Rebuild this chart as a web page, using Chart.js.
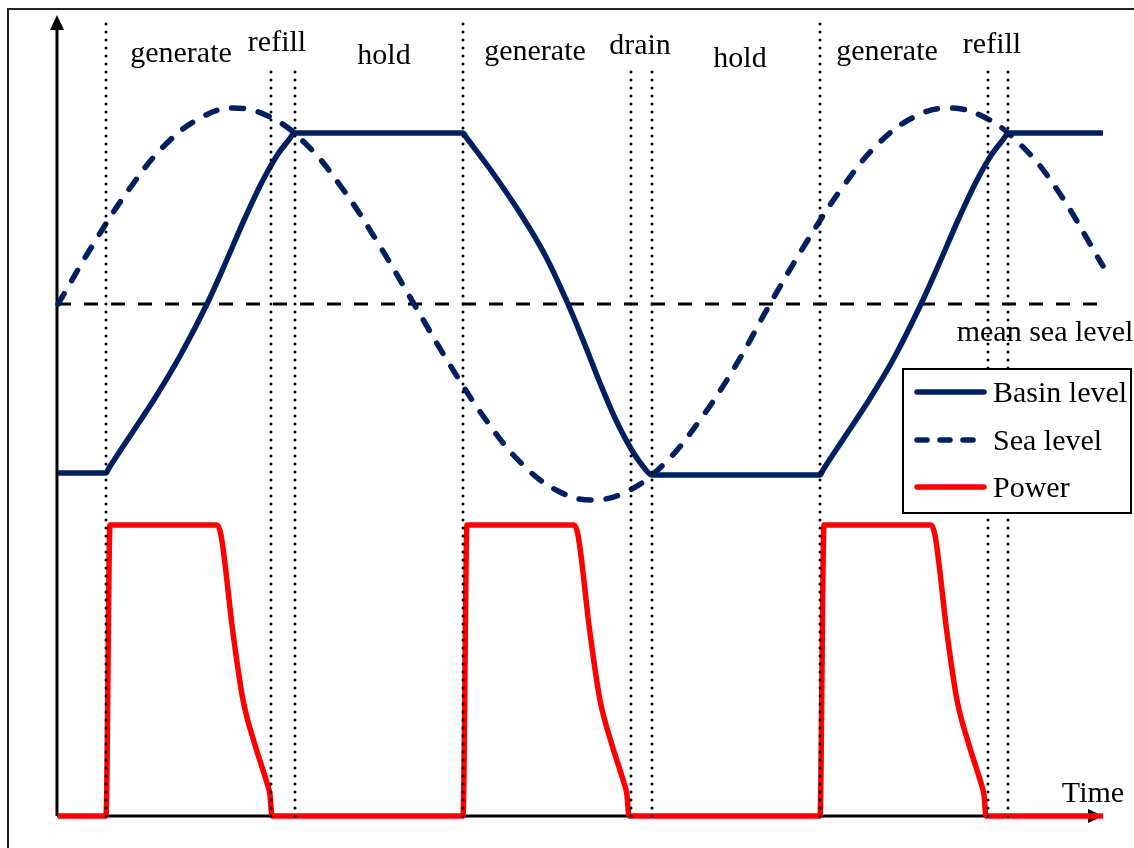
<!DOCTYPE html>
<html>
<head>
<meta charset="utf-8">
<title>Tidal power cycle</title>
<script src="https://cdn.jsdelivr.net/npm/chart.js@4.4.1/dist/chart.umd.min.js"></script>
<style>
    html, body { margin: 0; padding: 0; background: #fff; }
    canvas { display: block; }
</style>
</head>
<body>
<canvas id="tideChart" width="1134" height="848"></canvas>
<script>
/* ------------------------------------------------------------
   Ciclo de geração maré: nível da bacia, nível do mar e potência
   (tempo e altura em unidades arbitrárias)
   ------------------------------------------------------------ */

// Nível do mar (sinusoide tracejada)
const seaTime  = [1, 37, 73, 109, 145, 176, 213, 249, 285, 321, 357, 393, 429, 465, 501, 535,
                  571, 607, 643, 679, 713, 749, 785, 821, 857, 891, 927, 963, 999, 1046];
const seaLevel = [512, 573, 628, 672, 699, 708, 699, 672, 628, 573, 512, 451, 396, 352, 325, 316,
                  325, 352, 396, 451, 512, 573, 628, 672, 699, 708, 699, 672, 628, 550];

// Nível da bacia (linha cheia)
const basinTime  = [1, 49, 52, 73, 98, 123, 150, 168, 188, 205, 221, 231, 238,
                    406, 409, 433, 463, 488, 511, 528, 543, 558, 573, 585, 595,
                    763, 766, 787, 812, 837, 864, 882, 902, 919, 935, 945, 952, 1046];
const basinLevel = [343, 343, 348, 380, 418, 460, 512, 552, 598, 634, 662, 675, 683,
                    683, 679, 647, 603, 561, 512, 471, 433, 398, 369, 351, 341,
                    341, 346, 378, 416, 458, 512, 552, 598, 634, 662, 675, 683, 683];

// Potência gerada (linha vermelha)
const powerTime  = [1, 49, 53, 160, 164, 176, 186, 198, 210, 213, 215,
                    406, 410, 517, 521, 533, 543, 555, 567, 570, 572,
                    763, 767, 874, 878, 890, 900, 912, 924, 927, 929, 1046];
const powerLevel = [0, 0, 291, 291, 281, 183, 116, 71, 33, 21, 0,
                    0, 291, 291, 281, 183, 116, 71, 33, 21, 0,
                    0, 291, 291, 281, 183, 116, 71, 33, 21, 0, 0];

// Nível médio do mar
const meanSeaLevel = 512;

// Limites das fases (linhas pontilhadas)
const phaseTimes = [49, 214, 238, 406, 574, 595, 763, 931, 951];
const phaseTops  = [798, 749, 749, 798, 749, 749, 798, 749, 749];

// Rótulos das fases
const phaseLabels = ['generate', 'refill', 'hold', 'generate', 'drain', 'hold', 'generate', 'refill'];
const labelTimes  = [124, 220, 327, 478, 583, 683, 830, 935];
const labelHeights = [754, 765, 752, 756, 762, 749, 756, 763];

const seriesNames = ['Basin level', 'Sea level', 'Power'];

const NAVY = '#002060';
const RED = '#ff0000';
const FONT = '30px "Liberation Serif", "Times New Roman", serif';

const zip = (xs, ys) => xs.map((x, i) => ({ x: x, y: ys[i] }));

/**
 * Moldura, eixos com setas, rótulos e legenda
 */
const decorPlugin = {
    id: 'decor',
    beforeDatasetsDraw(chart) {
        const ctx = chart.ctx;
        const area = chart.chartArea;
        ctx.save();

        // moldura
        ctx.strokeStyle = '#222';
        ctx.lineWidth = 2;
        ctx.strokeRect(8, 9, 1140, 860);

        // eixos
        ctx.strokeStyle = '#000';
        ctx.fillStyle = '#000';
        ctx.lineWidth = 3;
        ctx.beginPath();
        ctx.moveTo(area.left, area.bottom);
        ctx.lineTo(area.left, area.top + 12);
        ctx.moveTo(area.left, area.bottom);
        ctx.lineTo(area.right - 12, area.bottom);
        ctx.stroke();

        ctx.beginPath();
        ctx.moveTo(area.left, area.top);
        ctx.lineTo(area.left - 7, area.top + 15);
        ctx.lineTo(area.left + 7, area.top + 15);
        ctx.closePath();
        ctx.fill();

        ctx.beginPath();
        ctx.moveTo(area.right, area.bottom);
        ctx.lineTo(area.right - 15, area.bottom - 7);
        ctx.lineTo(area.right - 15, area.bottom + 7);
        ctx.closePath();
        ctx.fill();

        ctx.restore();
    },
    afterDatasetsDraw(chart) {
        const ctx = chart.ctx;
        const xs = chart.scales.x;
        const ys = chart.scales.y;
        ctx.save();
        ctx.font = FONT;
        ctx.fillStyle = '#000';
        ctx.textBaseline = 'alphabetic';

        // rótulos das fases
        ctx.textAlign = 'center';
        phaseLabels.forEach((txt, i) => {
            ctx.fillText(txt, xs.getPixelForValue(labelTimes[i]), ys.getPixelForValue(labelHeights[i]));
        });

        ctx.fillText('mean sea level', 1045, 341);
        ctx.fillText('Time', 1093, 802);

        // legenda
        const box = { left: 903, top: 369, right: 1131, bottom: 513 };
        ctx.fillStyle = '#fff';
        ctx.fillRect(box.left, box.top, box.right - box.left, box.bottom - box.top);
        ctx.strokeStyle = '#000';
        ctx.lineWidth = 2;
        ctx.strokeRect(box.left, box.top, box.right - box.left, box.bottom - box.top);

        const rows = [392, 440, 487];
        const styles = [
            { color: NAVY, dash: [] },
            { color: NAVY, dash: [10, 13] },
            { color: RED, dash: [] }
        ];
        ctx.textAlign = 'left';
        rows.forEach((y, i) => {
            ctx.beginPath();
            ctx.strokeStyle = styles[i].color;
            ctx.lineWidth = 5.5;
            ctx.lineCap = 'round';
            ctx.setLineDash(styles[i].dash);
            ctx.moveTo(917, y);
            ctx.lineTo(984, y);
            ctx.stroke();
            ctx.setLineDash([]);
            ctx.fillStyle = '#000';
            ctx.fillText(seriesNames[i], 993, y + 10);
        });

        ctx.restore();
    }
};

const datasets = [
    {
        label: seriesNames[0],
        data: zip(basinTime, basinLevel),
        borderColor: NAVY,
        borderWidth: 5.5,
        cubicInterpolationMode: 'monotone',
        order: 3
    },
    {
        label: seriesNames[1],
        data: zip(seaTime, seaLevel),
        borderColor: NAVY,
        borderWidth: 5.5,
        borderDash: [12, 15],
        borderCapStyle: 'round',
        tension: 0.4,
        order: 4
    },
    {
        label: seriesNames[2],
        data: zip(powerTime, powerLevel),
        borderColor: RED,
        borderWidth: 5.5,
        cubicInterpolationMode: 'monotone',
        order: 2
    },
    {
        label: 'mean sea level',
        data: [{ x: 0, y: meanSeaLevel }, { x: 1046, y: meanSeaLevel }],
        borderColor: '#000',
        borderWidth: 3,
        borderDash: [14, 13],
        order: 5
    }
];

// linhas pontilhadas verticais
phaseTimes.forEach((t, i) => {
    datasets.push({
        label: 'phase ' + i,
        data: [{ x: t, y: 0 }, { x: t, y: phaseTops[i] }],
        borderColor: '#000',
        borderWidth: 3,
        borderDash: [0, 8],
        borderCapStyle: 'round',
        order: 1
    });
});

document.addEventListener('DOMContentLoaded', function() {
    const ctx = document.getElementById('tideChart').getContext('2d');
    new Chart(ctx, {
        type: 'line',
        data: { datasets: datasets },
        options: {
            responsive: false,
            animation: false,
            layout: { padding: { left: 57, top: 15, right: 31, bottom: 32 } },
            elements: { point: { radius: 0, hoverRadius: 0 }, line: { fill: false } },
            datasets: { line: { clip: false } },
            plugins: {
                legend: { display: false },
                title: { display: false },
                tooltip: { enabled: false }
            },
            scales: {
                x: { type: 'linear', min: 0, max: 1046, display: false },
                y: { type: 'linear', min: 0, max: 801, display: false }
            }
        },
        plugins: [decorPlugin]
    });
});
</script>
</body>
</html>
